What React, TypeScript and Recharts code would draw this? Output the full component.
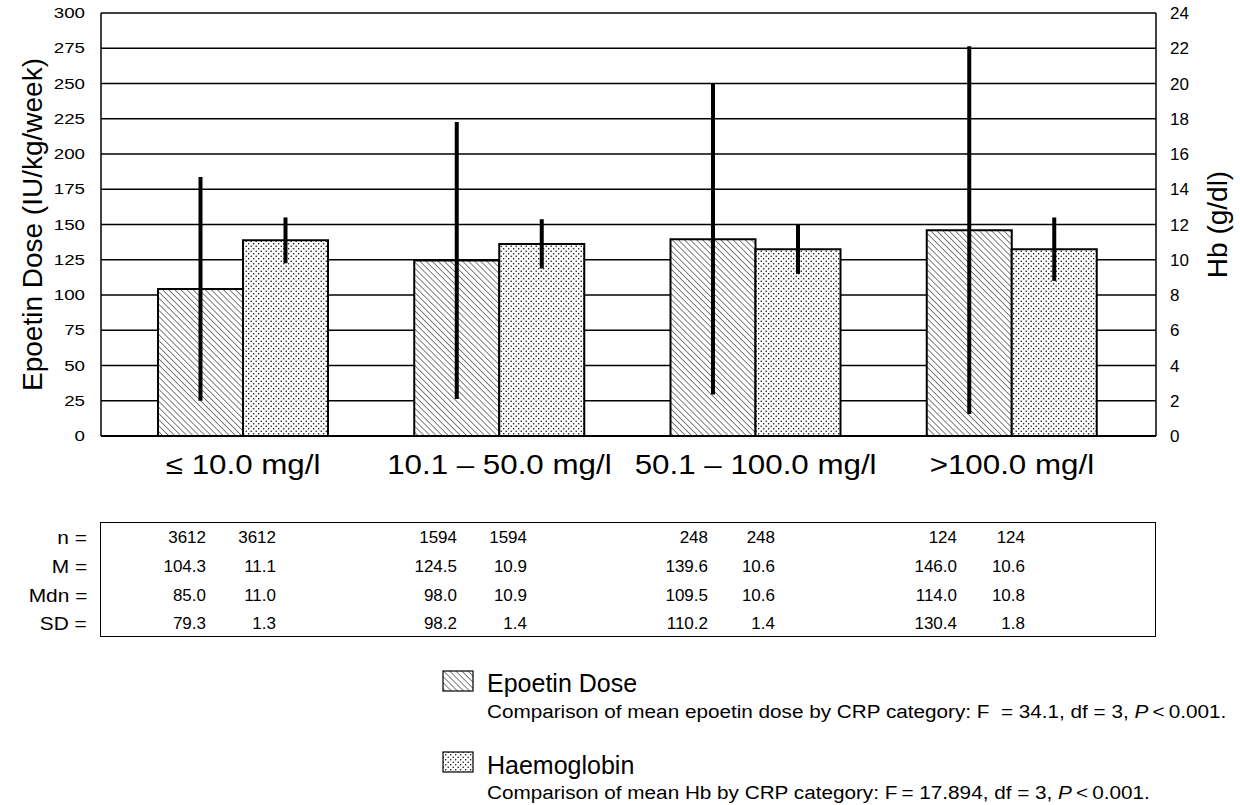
import React from 'react';
import { ComposedChart, Bar, XAxis, YAxis, CartesianGrid, ErrorBar } from 'recharts';

const categories = ['≤ 10.0 mg/l', '10.1 – 50.0 mg/l', '50.1 – 100.0 mg/l', '>100.0 mg/l'];
const doseMean = [104.3, 124.5, 139.6, 146.0];
const doseSd = [79.3, 98.2, 110.2, 130.4];
const hbMean = [11.1, 10.9, 10.6, 10.6];
const hbSd = [1.3, 1.4, 1.4, 1.8];
const nCount = [3612, 1594, 248, 124];
const doseMedian = [85.0, 98.0, 109.5, 114.0];
const hbMedian = [11.0, 10.9, 10.6, 10.8];
const doseTicks = [0, 25, 50, 75, 100, 125, 150, 175, 200, 225, 250, 275, 300];
const hbTicks = [0, 2, 4, 6, 8, 10, 12, 14, 16, 18, 20, 22, 24];

const FONT = '"Liberation Sans", Arial, Helvetica, sans-serif';

const data = categories.map((c, i) => ({
  cat: c,
  dose: doseMean[i],
  doseSd: doseSd[i],
  hb: hbMean[i],
  hbSd: hbSd[i],
}));

// table rows: [label, dose values, hb values, decimals]
const tableRows: [string, number[], number[], number][] = [
  ['n =', nCount, nCount, 0],
  ['M =', doseMean, hbMean, 1],
  ['Mdn =', doseMedian, hbMedian, 1],
  ['SD =', doseSd, hbSd, 1],
];
const colRight = [[206, 276], [457, 527], [708, 775], [957, 1025]];
const rowY = [538, 567, 596, 624];

function Patterns() {
  return (
    <defs>
      <pattern id="hatch" width="4.3" height="4.3" patternUnits="userSpaceOnUse" patternTransform="rotate(-45)">
        <rect width="4.3" height="4.3" fill="#fff" />
        <line x1="0" y1="0" x2="0" y2="4.3" stroke="#000" strokeWidth="1" />
      </pattern>
      <pattern id="dots" width="5" height="5" patternUnits="userSpaceOnUse">
        <rect width="5" height="5" fill="#fff" />
        <circle cx="1.2" cy="1.2" r="0.75" fill="#000" />
        <circle cx="3.7" cy="3.7" r="0.75" fill="#000" />
      </pattern>
    </defs>
  );
}

function Swatch({ fill }: { fill: string }) {
  return (
    <svg width={32} height={22} style={{ display: 'block' }}>
      <Patterns />
      <rect x={1} y={1} width={30} height={20} fill={fill} stroke="#000" strokeWidth={1.2} />
    </svg>
  );
}

// the original typeface is a little wider than Liberation Sans
const CatTick = (props: any) => {
  const { x, y, payload } = props;
  return (
    <g transform={`translate(${x},${y})`}>
      <text textAnchor="middle" dy={30} fontSize={27} fill="#000" transform="scale(1.16,1)">
        {payload.value}
      </text>
    </g>
  );
};

const LeftTick = (props: any) => {
  const { x, y, payload } = props;
  return (
    <g transform={`translate(${x},${y})`}>
      <text textAnchor="end" dy={5} fontSize={15} fill="#000" transform="scale(1.25,1)">
        {payload.value}
      </text>
    </g>
  );
};

export default function App() {
  return (
    <div style={{ position: 'absolute', left: 0, top: 0, width: 1240, height: 805, background: '#fff', fontFamily: FONT, color: '#000' }}>
      <ComposedChart
        width={1240}
        height={500}
        data={data}
        margin={{ top: 13, right: 0, bottom: 0, left: 0 }}
        barGap={0}
        style={{ fontFamily: FONT }}
      >
        <Patterns />
        <CartesianGrid yAxisId="left" vertical={false} stroke="#000" strokeWidth={1.3} />
        <XAxis
          dataKey="cat"
          height={64}
          padding={{ left: 14, right: 16 }}
          tickLine={false}
          tickSize={0}
          tickMargin={8}
          axisLine={{ stroke: '#000', strokeWidth: 2 }}
          tick={<CatTick />}
          interval={0}
        />
        <YAxis
          yAxisId="left"
          width={101}
          domain={[0, 300]}
          ticks={doseTicks}
          tickLine={false}
          tickSize={0}
          tickMargin={16}
          axisLine={{ stroke: '#000', strokeWidth: 1.5 }}
          tick={<LeftTick />}
          label={{ value: 'Epoetin Dose (IU/kg/week)', angle: -90, position: 'center', dx: -18, fill: '#000', fontSize: 28 }}
        />
        <YAxis
          yAxisId="right"
          orientation="right"
          width={84}
          domain={[0, 24]}
          ticks={hbTicks}
          tickLine={false}
          tickSize={0}
          tickMargin={14}
          axisLine={{ stroke: '#000', strokeWidth: 1.5 }}
          tick={{ fill: '#000', fontSize: 17 }}
          label={{ value: 'Hb (g/dl)', angle: -90, position: 'center', dx: 19, fill: '#000', fontSize: 28 }}
        />
        <Bar yAxisId="left" dataKey="dose" barSize={85} fill="url(#hatch)" stroke="#000" strokeWidth={2} isAnimationActive={false}>
          <ErrorBar dataKey="doseSd" width={0} stroke="#000" strokeWidth={4} direction="y" isAnimationActive={false} />
        </Bar>
        <Bar yAxisId="right" dataKey="hb" barSize={85} fill="url(#dots)" stroke="#000" strokeWidth={2} isAnimationActive={false}>
          <ErrorBar dataKey="hbSd" width={0} stroke="#000" strokeWidth={4} direction="y" isAnimationActive={false} />
        </Bar>
      </ComposedChart>

      {/* statistics table */}
      <div style={{ position: 'absolute', left: 100, top: 522, width: 1056, height: 115, border: '1.5px solid #000', boxSizing: 'border-box' }} />
      {tableRows.map(([label, a, b, dec], r) => (
        <React.Fragment key={label}>
          <div style={{ position: 'absolute', right: 1240 - 87, top: rowY[r] - 11, fontSize: 19, lineHeight: '22px', whiteSpace: 'nowrap', transform: 'scaleX(1.1)', transformOrigin: 'right' }}>{label}</div>
          {colRight.map(([r1, r2], c) => (
            <React.Fragment key={c}>
              <div style={{ position: 'absolute', right: 1240 - r1, top: rowY[r] - 10, fontSize: 17, lineHeight: '20px' }}>{a[c].toFixed(dec)}</div>
              <div style={{ position: 'absolute', right: 1240 - r2, top: rowY[r] - 10, fontSize: 17, lineHeight: '20px' }}>{b[c].toFixed(dec)}</div>
            </React.Fragment>
          ))}
        </React.Fragment>
      ))}

      {/* legend */}
      <div style={{ position: 'absolute', left: 442, top: 670 }}>
        <Swatch fill="url(#hatch)" />
      </div>
      <div style={{ position: 'absolute', left: 487, top: 668, fontSize: 25, lineHeight: '30px', whiteSpace: 'nowrap' }}>Epoetin Dose</div>
      <div style={{ position: 'absolute', left: 487, top: 702, fontSize: 18, lineHeight: '20px', whiteSpace: 'nowrap', transform: 'scaleX(1.15)', transformOrigin: 'left' }}>
        Comparison of mean epoetin dose by CRP category: F&nbsp; = 34.1, df = 3, <i>P</i>&thinsp;&lt;&thinsp;0.001.
      </div>
      <div style={{ position: 'absolute', left: 442, top: 751 }}>
        <Swatch fill="url(#dots)" />
      </div>
      <div style={{ position: 'absolute', left: 487, top: 750, fontSize: 25, lineHeight: '30px', whiteSpace: 'nowrap' }}>Haemoglobin</div>
      <div style={{ position: 'absolute', left: 487, top: 783, fontSize: 18, lineHeight: '20px', whiteSpace: 'nowrap', transform: 'scaleX(1.15)', transformOrigin: 'left' }}>
        Comparison of mean Hb by CRP category: F&thinsp;= 17.894, df = 3, <i>P</i>&thinsp;&lt;&thinsp;0.001.
      </div>
    </div>
  );
}
